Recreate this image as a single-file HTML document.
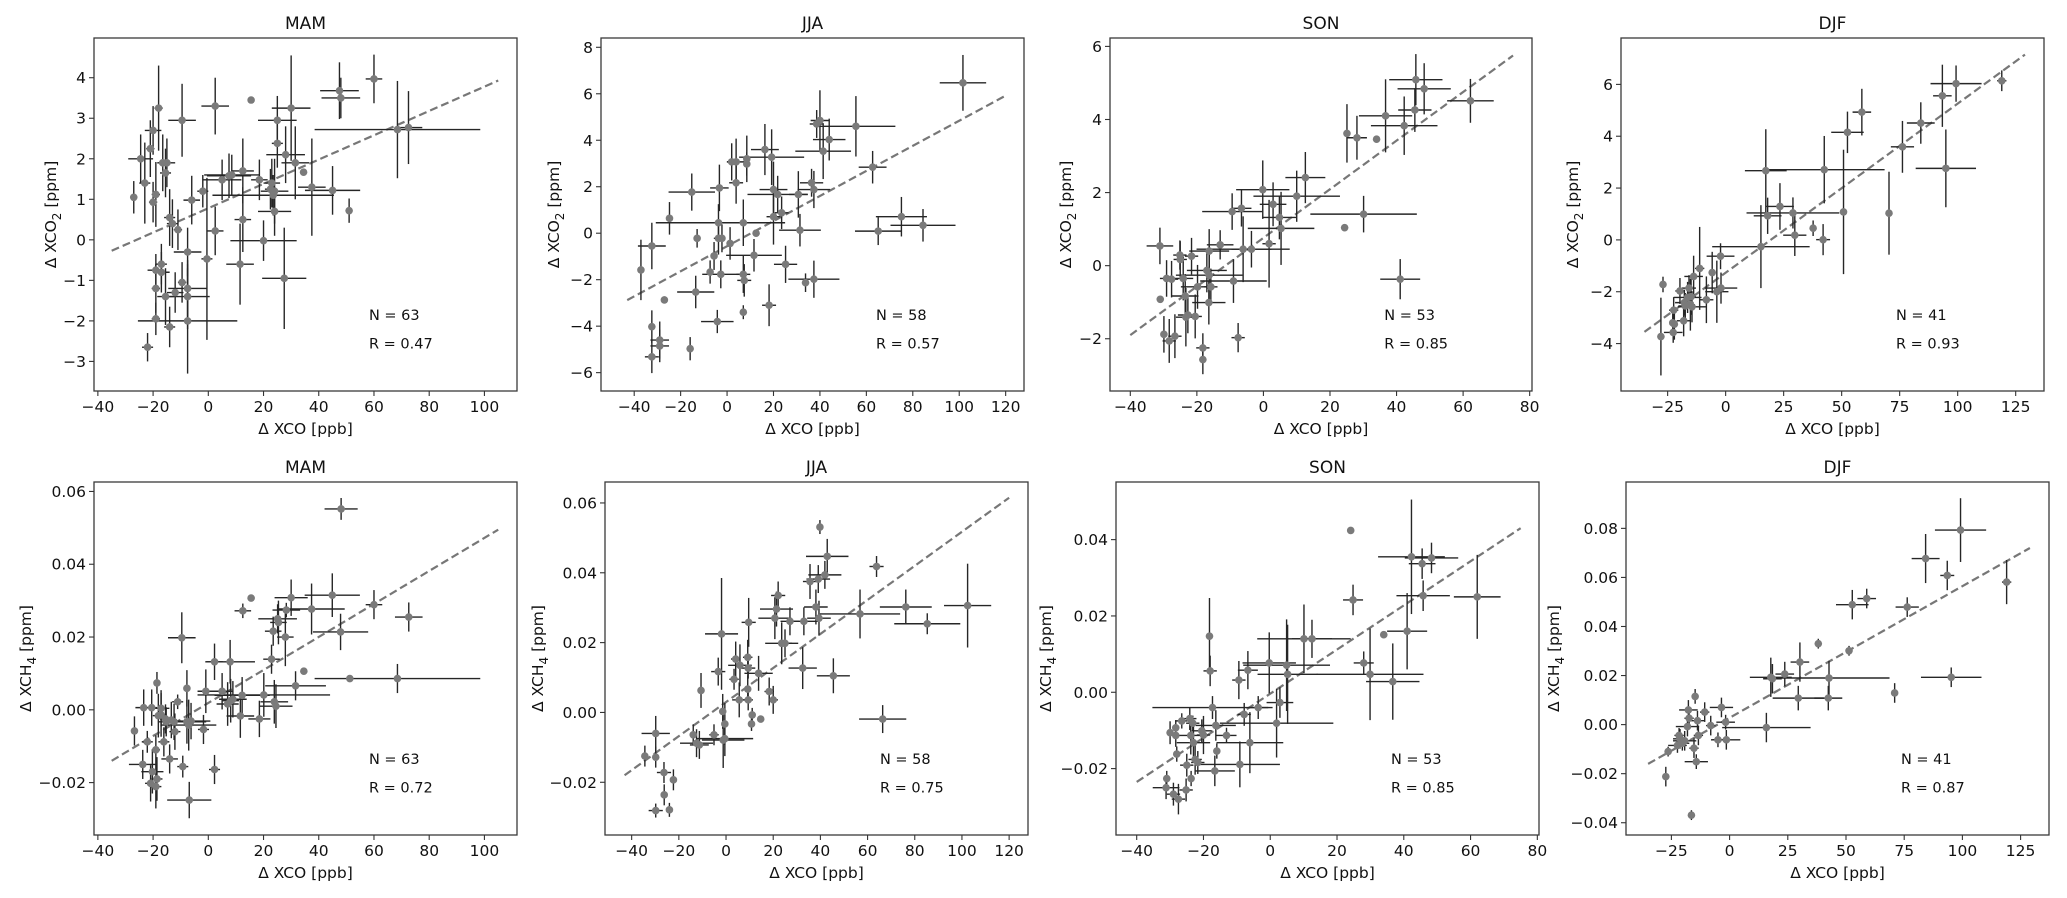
<!DOCTYPE html>
<html><head><meta charset="utf-8">
<style>
html,body{margin:0;padding:0;background:#fff;}
svg{display:block;font-family:"DejaVu Sans","Liberation Sans",sans-serif;}
</style></head>
<body>
<svg id="fig" width="2067" height="898" viewBox="0 0 2067 898" xmlns="http://www.w3.org/2000/svg"></svg>
<script>
// ---- data: [x, y, xerr, yerr] per point ----
const mamCo2Points = [[-27,1.05,1,0.4],[-24.5,2.0,4.5,0.6],[-23,1.4,2,1.0],[-22,-2.65,2,0.35],[-20,2.7,3,0.6],[-21,2.25,1.5,0.7],[-20,0.93,1.5,0.5],[-19,1.12,1.5,0.8],[-18,3.25,1.5,1.05],[-19,-0.75,3,0.4],[-19,-1.2,1.5,0.6],[-19,-1.95,1.5,0.4],[-17,-0.6,2,0.5],[-17,-0.8,3,0.5],[-16.5,1.9,2,0.7],[-15.5,1.65,2,0.6],[-15,1.9,3,0.6],[-15.5,-1.4,3,0.7],[-14,0.55,2,0.7],[-14,-2.15,2,0.5],[-13,0.4,2,0.6],[-12,-1.3,3,0.5],[-11,0.25,1.5,0.5],[-9.5,2.95,5,0.9],[-9.5,-1.05,1.5,0.5],[-7.5,-0.3,5,0.6],[-7.5,-1.2,7,0.7],[-7.5,-1.4,8,0.8],[-7.5,-2.0,18,1.3],[-6,0.98,3,0.6],[-2,1.2,2,0.4],[-0.5,-0.47,2,2.0],[2.5,3.3,5,0.7],[2.5,0.22,3,0.6],[5,1.48,7,0.5],[7.5,1.58,8,0.55],[8.5,1.6,10,0.5],[11.5,-0.6,5,1.0],[12.5,1.7,4,0.8],[12.5,0.5,3,0.8],[15.5,3.45,0,0],[18.5,1.48,3,0.5],[20,-0.02,12,0.5],[22.5,1.25,2,0.5],[23,1.4,3,0.6],[23.5,1.1,22,0.5],[24,0.7,6,0.6],[25,2.95,7,0.6],[25,2.38,2,0.6],[27.5,-0.95,8,1.25],[28,2.1,7,0.7],[30,3.25,7,1.3],[31.5,1.9,5,0.9],[34.5,1.67,0,0],[37.5,1.3,5,1.2],[45,1.22,10,0.6],[47.5,3.68,7,0.7],[48,3.5,7,0.5],[51,0.72,0,0.3],[60,3.97,3,0.6],[68.5,2.72,30,1.2],[72.5,2.77,5,0.9],[24,1.2,5,0.8]];
const jjaCo2Points = [[-37.1,-1.58,0,1.3],[-32.4,-0.55,6,1.0],[-32.4,-4.02,0,0.7],[-32.4,-5.32,3,0.7],[-29,-4.6,4,0.8],[-29,-4.85,4,0.7],[-27,-2.87,0,0.15],[-24.8,0.64,0,0.7],[-15.2,1.77,10,0.8],[-13.5,-2.53,8,0.7],[-12.9,-0.22,0,0.4],[-15.9,-4.97,0,0.5],[-7.3,-1.67,0,0.5],[-5.6,-0.98,0,0.6],[-4.2,-3.8,7,0.5],[-3.7,0.45,27,0.8],[-3.3,1.95,4,1.0],[-3.7,-0.22,2,0.7],[-2.7,-1.77,8,0.6],[-2.2,-0.22,0,0.6],[1.3,-0.44,0,0.7],[2.0,3.07,2,0.8],[3.9,3.07,4,1.0],[3.9,2.17,3,0.9],[7.0,0.45,18,1.0],[7.0,-1.77,3,0.8],[7.4,-2.03,3,0.7],[8.5,3.2,1,1.0],[8.5,2.98,0,0.5],[7,-3.4,0,0.3],[11.6,-0.95,12,0.7],[12.5,0,0,0],[16.3,3.6,6,1.1],[19.2,3.27,14,1.2],[20,1.88,6,1.2],[20,0.71,3,1.2],[21.8,1.67,13,0.8],[23.5,0.88,3,0.7],[18.1,-3.1,3,0.9],[25.2,-1.34,5,0.8],[30.7,1.67,4,1.0],[31.4,0.13,9,0.7],[33.8,-2.13,0,0.4],[36.4,2.17,5,0.6],[37.4,1.88,7,0.8],[37.4,-1.98,11,0.8],[38.6,4.7,3,0.6],[40,4.85,4,1.3],[41.4,3.53,12,1.2],[44,4.03,7,0.9],[55.5,4.6,17,1.3],[62.7,2.84,6,0.7],[65.1,0.09,10,0.6],[75.1,0.71,11,0.85],[84.4,0.34,14,0.7],[101.6,6.47,10,1.2]];
const sonCo2Points = [[-31.1,0.54,4,0.5],[-31,-0.92,0,0],[-29.9,-1.88,1,0.5],[-29.1,-0.35,2,0.5],[-28.3,-2.06,2,0.6],[-27.6,-0.37,2,0.5],[-26.6,-1.93,2,0.6],[-25,0.17,2,0.5],[-25.1,0.29,2,0.4],[-24.1,-0.35,3,0.6],[-23.5,-0.83,4,0.6],[-23.3,-1.41,3,0.8],[-22.7,-1.35,3,0.5],[-21.6,0.26,2,0.5],[-20.5,-1.39,2,0.6],[-19.8,-0.58,5,0.6],[-18.2,-2.25,2,0.4],[-18.2,-2.57,0,0.4],[-17.0,-0.13,6,0.6],[-16.4,-1.01,5,0.6],[-16.3,0.4,6,0.6],[-16.3,-0.26,10,0.8],[-15.8,-0.58,2,0.5],[-13,0.57,4,0.4],[-9.4,1.48,9,0.5],[-9,-0.42,10,0.6],[-7.6,-1.97,2,0.4],[-6.6,1.57,3,0.5],[-6.1,0.45,14,0.9],[-3.6,0.45,6,0.5],[-0.2,2.08,8,0.8],[1.7,0.6,2,1.2],[2.9,1.68,4,0.6],[4.8,1.32,5,0.6],[5.3,1.02,10,1.0],[10,1.9,13,0.7],[12.6,2.41,6,0.7],[24.4,1.04,0,0],[25.1,3.62,0,0.8],[28.1,3.5,3,0.6],[30.1,1.41,16,0.5],[34,3.46,0,0],[36.7,4.1,8,1.0],[41.1,-0.37,6,0.55],[42.3,3.83,10,0.8],[45.5,4.26,5,0.6],[45.8,5.09,8,0.7],[48.3,4.84,8,0.7],[62.2,4.51,7,0.6]];
const djfCo2Points = [[-27.9,-3.73,0,1.5],[-27,-1.72,0,0.3],[-22.4,-2.71,2,0.5],[-22.8,-3.2,0,0.5],[-22.1,-3.25,1,0.6],[-22.6,-3.57,4,0.4],[-19.7,-1.97,2,0.5],[-18.1,-3.12,3,0.6],[-17.8,-2.42,4,0.5],[-17.4,-2.55,3,0.5],[-15.8,-1.86,3,0.5],[-14.9,-2.19,2,0.7],[-14.5,-2.58,6,0.6],[-13.8,-1.41,4,0.8],[-11.2,-1.1,2,1.6],[-8.3,-2.31,3,0.9],[-5.8,-1.26,1,0.8],[-3.8,-2.0,5,1.2],[-2.2,-0.63,6,0.5],[-2,-1.86,7,0.6],[15.2,-0.26,21,1.6],[17.3,2.67,9,1.6],[18.1,0.93,6,0.7],[23.4,1.29,6,0.9],[29,1.04,20,0.6],[29.8,0.18,5,0.8],[37.7,0.45,0,0.3],[42,0.01,3,0.6],[42.5,2.71,26,1.3],[50.8,1.08,0,2.4],[52.5,4.15,7,0.8],[58.7,4.93,4,0.9],[70.4,1.03,0,1.6],[76.2,3.59,5,1.0],[84.1,4.51,6,0.8],[93.4,5.56,4,1.2],[94.9,2.76,13,1.5],[99.3,6.03,11,0.7],[119,6.14,2,0.4],[-16.4,-2.22,6,0.6],[-15.2,-2.5,2,1.0]];
const mamCh4Points = [[-26.75,-0.0058,0,0.004],[-23.4,0.0006,3,0.005],[-23.75,-0.015,5,0.004],[-22.1,-0.0088,2,0.003],[-20.5,0.0006,2,0.005],[-20.25,-0.017,4,0.006],[-20.9,-0.0202,2,0.005],[-19,-0.0211,2,0.006],[-18.6,0.0074,0,0.003],[-19,-0.011,1.5,0.004],[-18.6,-0.019,2,0.006],[-18.1,-0.0016,2,0.006],[-17.1,0.0004,3,0.005],[-17.1,-0.0014,2,0.006],[-16.1,-0.0088,2,0.004],[-15.5,-0.0025,2,0.004],[-15.25,-0.0033,3,0.004],[-14,-0.0135,3,0.004],[-13.4,-0.0028,2,0.005],[-12.4,-0.0033,3,0.005],[-12.1,-0.006,2,0.005],[-11.1,0.0022,2,0.002],[-9.6,0.0198,5,0.007],[-9.25,-0.0156,2,0.003],[-7.75,0.0059,0,0.005],[-7.75,-0.0033,7,0.006],[-7.1,-0.0042,10,0.007],[-6.9,-0.0248,8,0.005],[-6.25,-0.0031,7,0.005],[-1.75,-0.0054,2,0.004],[-0.9,0.0051,3,0.006],[2.25,0.0132,3,0.005],[2.25,-0.0164,2,0.004],[5,0.0051,4,0.005],[7,0.0016,4,0.006],[7.9,0.0132,9,0.006],[8.1,0.0025,3,0.006],[8.9,0.0029,5,0.005],[11.6,-0.0017,5,0.006],[12.25,0.004,10,0.005],[12.5,0.0272,3,0.002],[15.5,0.0307,0,0],[18.5,-0.0025,4,0.005],[20.1,0.0041,24,0.006],[22.9,0.0139,3,0.004],[23.5,0.0216,3,0.004],[23.9,0.0022,5,0.006],[24.5,0.001,6,0.006],[25.1,0.025,7,0.004],[25.4,0.024,3,0.006],[27.9,0.02,3,0.008],[28.25,0.0274,5,0.002],[30,0.0308,6,0.005],[31.6,0.0066,11,0.004],[34.6,0.0106,0,0],[37.4,0.0277,12,0.007],[44.9,0.0315,10,0.006],[47.9,0.0214,10,0.005],[48.1,0.0552,6,0.003],[51.25,0.0086,0,0],[60,0.0289,3,0.004],[68.5,0.0086,30,0.004],[72.6,0.0255,5,0.004]];
const jjaCh4Points = [[-34.4,-0.0125,0,0.003],[-29.8,-0.006,6,0.005],[-29.8,-0.0128,0,0.003],[-29.8,-0.0281,3,0.002],[-26.3,-0.0172,3,0.003],[-26.2,-0.0236,0,0.003],[-24.0,-0.0279,0,0.002],[-22.3,-0.0193,0,0.003],[-13.9,-0.0064,1,0.003],[-12.5,-0.0088,7,0.004],[-11.3,-0.0093,4,0.004],[-10.6,0.0063,0,0.005],[-5.1,-0.0064,2,0.003],[-3.3,0.0117,3,0.004],[-1.9,0.0225,7,0.016],[-1.4,0.0003,0,0.005],[-1.2,-0.0079,9,0.008],[-0.5,-0.0033,1,0.006],[-0.5,-0.0075,12,0.005],[3.4,0.0095,2,0.003],[4.1,0.0153,2,0.005],[5.6,0.0036,3,0.005],[5.9,0.0135,5,0.006],[9.2,0.0158,2,0.005],[9.2,0.0067,0,0.004],[9.4,0.0036,2,0.003],[9.4,0.0127,3,0.003],[9.6,0.0258,3,0.007],[10.8,-0.0033,0,0.002],[11.1,-0.0007,1,0.002],[13.8,0.0112,6,0.005],[14.7,-0.0019,0,0],[18.3,0.006,2,0.004],[20,0.0036,2,0.004],[20.7,0.027,7,0.006],[21.4,0.0296,7,0.005],[22.1,0.0335,3,0.004],[23.6,0.0198,7,0.006],[25,0.0198,3,0.004],[27.1,0.0261,4,0.004],[32.5,0.0127,6,0.006],[33,0.0261,6,0.004],[35.6,0.0375,3,0.005],[38.1,0.0302,5,0.005],[39.1,0.0382,5,0.004],[39.4,0.027,5,0.005],[39.8,0.0531,0,0.002],[41.9,0.0394,7,0.004],[42.9,0.0447,9,0.005],[45.5,0.0105,7,0.005],[56.8,0.0282,17,0.007],[63.8,0.0418,3,0.003],[66.4,-0.0019,10,0.004],[76.2,0.0302,11,0.005],[85.3,0.0254,14,0.003],[102.4,0.0306,10,0.012]];
const sonCh4Points = [[-31.2,-0.025,4,0.003],[-31,-0.0226,0,0.002],[-30,-0.0106,1,0.003],[-29,-0.0267,2,0.003],[-28.3,-0.0093,1,0.002],[-28.3,-0.0113,1,0.003],[-28,-0.0162,1,0.002],[-27.5,-0.028,2,0.004],[-26.5,-0.0075,2,0.002],[-25.2,-0.0256,2,0.003],[-25,-0.0191,2,0.003],[-24.1,-0.0069,2,0.003],[-23.8,-0.0113,5,0.005],[-23.7,-0.0226,1,0.002],[-23.2,-0.0081,2,0.002],[-23,-0.0132,5,0.005],[-22.5,-0.0176,2,0.004],[-21.7,-0.0184,2,0.003],[-20.5,-0.0101,3,0.003],[-20,-0.0112,2,0.005],[-18.2,0.0147,0,0.01],[-18,0.0056,2,0.004],[-17.3,-0.004,18,0.003],[-16.6,-0.0206,6,0.004],[-16.3,-0.0087,6,0.004],[-16,-0.0154,0,0.002],[-13.1,-0.0113,3,0.002],[-9.4,0.0032,2,0.005],[-9.1,-0.0189,12,0.006],[-7.8,-0.0058,2,0.003],[-6.7,0.0058,3,0.005],[-6.1,-0.0132,10,0.008],[-3.6,-0.004,3,0.003],[-0.3,0.0077,8,0.008],[1.9,-0.0081,17,0.009],[2.9,-0.0027,4,0.004],[4.9,0.0071,13,0.012],[5.2,0.0047,9,0.013],[10.1,0.014,14,0.009],[12.5,0.014,6,0.005],[24.1,0.0424,0,0],[24.8,0.0242,3,0.004],[28,0.0077,3,0.003],[29.9,0.0047,16,0.012],[34,0.0151,0,0],[36.7,0.0028,8,0.01],[41,0.016,6,0.01],[42.3,0.0355,10,0.015],[45.5,0.0337,4,0.004],[45.8,0.0253,8,0.004],[48.3,0.0352,8,0.004],[62,0.025,7,0.011]];
const djfCh4Points = [[-27.4,-0.0212,0,0.004],[-26.4,-0.011,0,0.002],[-22.4,-0.0085,4,0.003],[-21.7,-0.0044,2,0.003],[-21.3,-0.0058,3,0.004],[-20.3,-0.0076,3,0.003],[-19.3,-0.0066,5,0.004],[-18.1,-0.0008,5,0.004],[-17.7,0.006,4,0.004],[-17.4,0.0026,2,0.003],[-16.4,-0.0369,0,0.002],[-15.3,-0.0096,2,0.004],[-14.8,0.0115,0,0.003],[-14.3,-0.0151,5,0.003],[-13.8,0.0016,3,0.004],[-13.4,-0.0044,2,0.004],[-10.7,0.0051,2,0.004],[-8.1,-0.0004,2,0.004],[-5,-0.0062,3,0.003],[-3.5,0.007,5,0.004],[-1.7,0.001,4,0.003],[-1.4,-0.0062,6,0.004],[15.8,-0.0012,19,0.006],[17.7,0.0193,9,0.008],[18.4,0.0187,4,0.006],[23.7,0.0206,4,0.005],[29.5,0.0108,11,0.005],[30.2,0.0255,4,0.008],[38.1,0.033,0,0.002],[42.4,0.0108,6,0.005],[42.7,0.019,26,0.007],[51.3,0.0301,0,0.002],[52.7,0.0489,7,0.006],[58.9,0.0514,4,0.004],[70.9,0.0129,0,0.004],[76.3,0.0479,5,0.004],[84.2,0.0677,6,0.01],[93.5,0.0608,3,0.006],[95.2,0.0193,13,0.004],[99.2,0.0793,11,0.013],[119,0.0581,2,0.009]];
// fit line endpoints [x0,y0,x1,y1]
const mamCo2Fit = [-35,-0.27,105,3.93];
const jjaCo2Fit = [-43,-2.88,120,5.92];
const sonCo2Fit = [-40,-1.9,75,5.75];
const djfCo2Fit = [-35,-3.55,129,7.15];
const mamCh4Fit = [-35,-0.014,105,0.0495];
const jjaCh4Fit = [-43,-0.018,120,0.0615];
const sonCh4Fit = [-40,-0.0235,75,0.043];
const djfCh4Fit = [-35,-0.016,129,0.072];
// tick values
const xTicksMam = [-40,-20,0,20,40,60,80,100];
const xTicksJja = [-40,-20,0,20,40,60,80,100,120];
const xTicksSon = [-40,-20,0,20,40,60,80];
const xTicksDjf = [-25,0,25,50,75,100,125];
const yTicksMamCo2 = [-3,-2,-1,0,1,2,3,4];
const yTicksJjaCo2 = [-6,-4,-2,0,2,4,6,8];
const yTicksSonCo2 = [-2,0,2,4,6];
const yTicksDjfCo2 = [-4,-2,0,2,4,6];
const yTicksMamCh4 = [-0.02,0,0.02,0.04,0.06];
const yTicksJjaCh4 = [-0.02,0,0.02,0.04,0.06];
const yTicksSonCh4 = [-0.02,0,0.02,0.04];
const yTicksDjfCh4 = [-0.04,-0.02,0,0.02,0.04,0.06,0.08];
// stats text
const nValues = [63,58,53,41,63,58,53,41];
const rValues = ["0.47","0.57","0.85","0.93","0.72","0.75","0.85","0.87"];

const NS = "http://www.w3.org/2000/svg";
const svg = document.getElementById('fig');
function mk(tag, attrs, parent){
  const e = document.createElementNS(NS, tag);
  for (const k in attrs) e.setAttribute(k, attrs[k]);
  (parent||svg).appendChild(e);
  return e;
}
function fmt(v, dec){
  const s = Math.abs(v).toFixed(dec);
  return (v < 0 ? "\u2212" : "") + s;
}
const panels = [
 {id:'mam-co2', title:'MAM', box:[94,38,517,391], xd:[-41.4,111.8], yd:[-3.73,4.98], pts:mamCo2Points, fit:mamCo2Fit, xt:xTicksMam, yt:yTicksMamCo2, dec:0, gas:'CO', sub:'2', ylx:50},
 {id:'jja-co2', title:'JJA', box:[601,38,1024,391], xd:[-54.3,127.9], yd:[-6.79,8.40], pts:jjaCo2Points, fit:jjaCo2Fit, xt:xTicksJja, yt:yTicksJjaCo2, dec:0, gas:'CO', sub:'2', ylx:553},
 {id:'son-co2', title:'SON', box:[1110,38,1532,391], xd:[-46.1,80.7], yd:[-3.43,6.23], pts:sonCo2Points, fit:sonCo2Fit, xt:xTicksSon, yt:yTicksSonCo2, dec:0, gas:'CO', sub:'2', ylx:1065},
 {id:'djf-co2', title:'DJF', box:[1621,38,2044,391], xd:[-45.1,137.2], yd:[-5.83,7.79], pts:djfCo2Points, fit:djfCo2Fit, xt:xTicksDjf, yt:yTicksDjfCo2, dec:0, gas:'CO', sub:'2', ylx:1572},
 {id:'mam-ch4', title:'MAM', box:[94,482,517,835], xd:[-41.4,111.8], yd:[-0.0344,0.0626], pts:mamCh4Points, fit:mamCh4Fit, xt:xTicksMam, yt:yTicksMamCh4, dec:2, gas:'CH', sub:'4', ylx:25},
 {id:'jja-ch4', title:'JJA', box:[605,482,1028,835], xd:[-51.3,128], yd:[-0.0351,0.066], pts:jjaCh4Points, fit:jjaCh4Fit, xt:xTicksJja, yt:yTicksJjaCh4, dec:2, gas:'CH', sub:'4', ylx:537},
 {id:'son-ch4', title:'SON', box:[1116,482,1539,835], xd:[-46.2,80.5], yd:[-0.0374,0.0551], pts:sonCh4Points, fit:sonCh4Fit, xt:xTicksSon, yt:yTicksSonCh4, dec:2, gas:'CH', sub:'4', ylx:1045},
 {id:'djf-ch4', title:'DJF', box:[1626,482,2049,835], xd:[-44.5,137.2], yd:[-0.045,0.0989], pts:djfCh4Points, fit:djfCh4Fit, xt:xTicksDjf, yt:yTicksDjfCh4, dec:2, gas:'CH', sub:'4', ylx:1553}
];

panels.forEach((p, i) => {
  const [L,T,R,B] = p.box;
  const sx = v => L + (v - p.xd[0]) / (p.xd[1] - p.xd[0]) * (R - L);
  const sy = v => B - (v - p.yd[0]) / (p.yd[1] - p.yd[0]) * (B - T);
  const g = mk('g', {});
  
  
  const clipId = 'clip' + i;
  const cp = mk('clipPath', {id: clipId}, g);
  mk('rect', {x:L, y:T, width:R-L, height:B-T}, cp);

  // title
  const t = mk('text', {x:(L+R)/2, y:T-9, 'text-anchor':'middle', 'font-size':17, fill:'#111'}, g);
  t.textContent = p.title;
  
  

  // data group
  const dg = mk('g', {'clip-path':'url(#'+clipId+')'}, g);
  // fit line
  const fl = mk('line', {x1:sx(p.fit[0]), y1:sy(p.fit[1]), x2:sx(p.fit[2]), y2:sy(p.fit[3]), stroke:'#777', 'stroke-width':2.2, 'stroke-dasharray':'8,4'}, dg);
  
  
  // error bars
  p.pts.forEach(d => {
    const cx = sx(d[0]), cy = sy(d[1]);
    if (d[2] > 0) {
      const eb = mk('line', {x1:sx(d[0]-d[2]), y1:cy, x2:sx(d[0]+d[2]), y2:cy, stroke:'#262626', 'stroke-width':1.4}, dg);
      
      
    }
    if (d[3] > 0) {
      const eb = mk('line', {x1:cx, y1:sy(d[1]-d[3]), x2:cx, y2:sy(d[1]+d[3]), stroke:'#262626', 'stroke-width':1.4}, dg);
      
      
    }
  });
  p.pts.forEach(d => {
    const c = mk('circle', {cx:sx(d[0]), cy:sy(d[1]), r:3.8, fill:'#7a7a7a'}, dg);
    
    
  });

  // frame
  const fr = mk('rect', {x:L, y:T, width:R-L, height:B-T, fill:'none', stroke:'#3a3a3a', 'stroke-width':1.3}, g);
  
  

  // x ticks
  p.xt.forEach(v => {
    const x = sx(v);
    mk('line', {x1:x, y1:B, x2:x, y2:B+5, stroke:'#333', 'stroke-width':1.1}, g);
    const tl = mk('text', {x:x, y:B+21, 'text-anchor':'middle', 'font-size':15.5, fill:'#111'}, g);
    tl.textContent = fmt(v, 0);
    
    
  });
  // y ticks
  p.yt.forEach(v => {
    const y = sy(v);
    mk('line', {x1:L-5, y1:y, x2:L, y2:y, stroke:'#333', 'stroke-width':1.1}, g);
    const tl = mk('text', {x:L-8, y:y+5.5, 'text-anchor':'end', 'font-size':15.5, fill:'#111'}, g);
    tl.textContent = fmt(v, p.dec);
    
    
  });
  // x axis title
  const xl = mk('text', {x:(L+R)/2, y:B+43, 'text-anchor':'middle', 'font-size':15.5, fill:'#111'}, g);
  xl.textContent = '\u0394 XCO [ppb]';
  
  
  // y axis title
  const cyL = (T+B)/2;
  const yl = mk('text', {x:0, y:0, 'text-anchor':'middle', 'font-size':15.5, fill:'#111', transform:'translate('+(p.ylx+6)+','+cyL+') rotate(-90)'}, g);
  
  
  const s1 = mk('tspan', {}, yl); s1.textContent = '\u0394 X' + p.gas;
  const s2 = mk('tspan', {dy:5, 'font-size':12}, yl); s2.textContent = p.sub;
  const s3 = mk('tspan', {dy:-5}, yl); s3.textContent = ' [ppm]';
  // stats
  const ax = L + 0.65*(R-L);
  const nt = mk('text', {x:ax, y:T+0.785*(B-T)+5, 'font-size':14.5, fill:'#111'}, g);
  nt.textContent = 'N = ' + nValues[i];
  
  
  const rt = mk('text', {x:ax, y:T+0.865*(B-T)+5, 'font-size':14.5, fill:'#111'}, g);
  rt.textContent = 'R = ' + rValues[i];
  
  
});
</script>
</body></html>
